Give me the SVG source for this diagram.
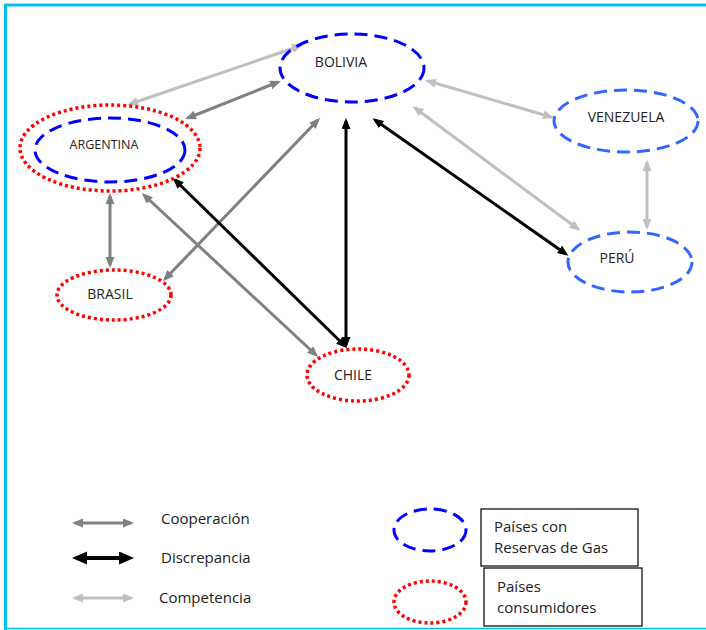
<svg xmlns="http://www.w3.org/2000/svg" width="706" height="630" viewBox="0 0 706 630">
<style>
text{font-family:"Open Sans","Liberation Sans",sans-serif;fill:#222;}
.lbl{font-size:14px;text-anchor:middle;}
.gas{fill:none;stroke:#0000ff;stroke-width:3;stroke-dasharray:13 7;}
.gas2{fill:none;stroke:#3366ff;stroke-width:3;stroke-dasharray:13 7;}
.cons{fill:none;stroke:#ff0000;stroke-width:3.5;stroke-dasharray:3 3;}
.coop{stroke:#808080;stroke-width:3;fill:none;marker-start:url(#mCoop);marker-end:url(#mCoop);}
.comp{stroke:#bfbfbf;stroke-width:3;fill:none;marker-start:url(#mComp);marker-end:url(#mComp);}
.disc{stroke:#000;stroke-width:3;fill:none;marker-start:url(#mDisc);marker-end:url(#mDisc);}
.box{fill:#fff;stroke:#111;stroke-width:1.3;}
.leg{font-size:15px;}
</style>
<defs>
<marker id="mCoop" markerUnits="userSpaceOnUse" markerWidth="12" markerHeight="10" refX="8" refY="4.5" orient="auto-start-reverse" viewBox="0 0 12 10"><path d="M0,0 L11,4.5 L0,9 z" fill="#808080"/></marker>
<marker id="mComp" markerUnits="userSpaceOnUse" markerWidth="12" markerHeight="10" refX="8" refY="4.5" orient="auto-start-reverse" viewBox="0 0 12 10"><path d="M0,0 L11,4.5 L0,9 z" fill="#bfbfbf"/></marker>
<marker id="mDisc" markerUnits="userSpaceOnUse" markerWidth="12" markerHeight="10" refX="8" refY="4.5" orient="auto-start-reverse" viewBox="0 0 12 10"><path d="M0,0 L11,4.5 L0,9 z" fill="#000"/></marker>
<marker id="mDiscL" markerUnits="userSpaceOnUse" markerWidth="16" markerHeight="14" refX="10" refY="6.5" orient="auto-start-reverse" viewBox="0 0 16 14"><path d="M0,0 L15,6.5 L0,13 z" fill="#000"/></marker>
</defs>
<rect x="0" y="0" width="706" height="630" fill="#fff"/>
<g id="frame">
<line x1="5.5" y1="4" x2="5.5" y2="630" stroke="#00c0f0" stroke-width="3"/>
<line x1="4" y1="5" x2="706" y2="5" stroke="#00c0f0" stroke-width="3"/>
<line x1="4" y1="628.5" x2="706" y2="628.5" stroke="#00c0f0" stroke-width="1.5"/>
</g>
<g id="connectors">
<line class="comp" x1="130" y1="104" x2="300" y2="46"/>
<line class="coop" x1="188" y1="118" x2="278" y2="82"/>
<line class="coop" x1="318" y1="120" x2="165" y2="279"/>
<line class="disc" x1="346" y1="121" x2="346" y2="345"/>
<line class="disc" x1="175" y1="180" x2="345" y2="346"/>
<line class="coop" x1="144" y1="195" x2="316" y2="355"/>
<line class="coop" x1="110" y1="196" x2="110" y2="265"/>
<line class="disc" x1="375" y1="120" x2="566" y2="254"/>
<line class="comp" x1="428" y1="81" x2="551" y2="117"/>
<line class="comp" x1="415" y1="108" x2="578" y2="229"/>
<line class="comp" x1="647" y1="163" x2="647" y2="227"/>
</g>
<g id="bolivia">
<ellipse class="gas" cx="352" cy="68" rx="72" ry="34"/>
<text class="lbl" x="341" y="67">BOLIVIA</text>
</g>
<g id="argentina">
<ellipse class="cons" cx="110" cy="148" rx="90" ry="43"/>
<ellipse class="gas" cx="110" cy="150" rx="75" ry="32"/>
<text class="lbl" x="104" y="149" style="font-size:12.5px">ARGENTINA</text>
</g>
<g id="venezuela">
<ellipse class="gas2" cx="626" cy="121" rx="72" ry="31"/>
<text class="lbl" x="626" y="122">VENEZUELA</text>
</g>
<g id="peru">
<ellipse class="gas2" cx="630" cy="262" rx="62" ry="30"/>
<text class="lbl" x="617" y="263">PERÚ</text>
</g>
<g id="brasil">
<ellipse class="cons" cx="114" cy="295" rx="57" ry="25"/>
<text class="lbl" x="110" y="299">BRASIL</text>
</g>
<g id="chile">
<ellipse class="cons" cx="358" cy="375" rx="51" ry="26"/>
<text class="lbl" x="353" y="380">CHILE</text>
</g>
<g id="legend">
<line x1="75" y1="523" x2="131" y2="523" stroke="#808080" stroke-width="3" marker-start="url(#mCoop)" marker-end="url(#mCoop)"/>
<line x1="77" y1="558" x2="129" y2="558" stroke="#000" stroke-width="4" marker-start="url(#mDiscL)" marker-end="url(#mDiscL)"/>
<line x1="75" y1="598" x2="131" y2="598" stroke="#bfbfbf" stroke-width="3" marker-start="url(#mComp)" marker-end="url(#mComp)"/>
<text class="leg" x="161" y="524">Cooperación</text>
<text class="leg" x="161" y="563">Discrepancia</text>
<text class="leg" x="159" y="603">Competencia</text>
<ellipse class="gas" cx="430" cy="530" rx="36" ry="21"/>
<ellipse class="cons" cx="430" cy="602" rx="36" ry="21"/>
<rect class="box" x="481" y="509" width="157" height="57"/>
<text class="leg" x="494" y="532">Países con</text>
<text class="leg" x="494" y="553">Reservas de Gas</text>
<rect class="box" x="484" y="568" width="158" height="58"/>
<text class="leg" x="497" y="592">Países</text>
<text class="leg" x="497" y="613">consumidores</text>
</g>
</svg>
